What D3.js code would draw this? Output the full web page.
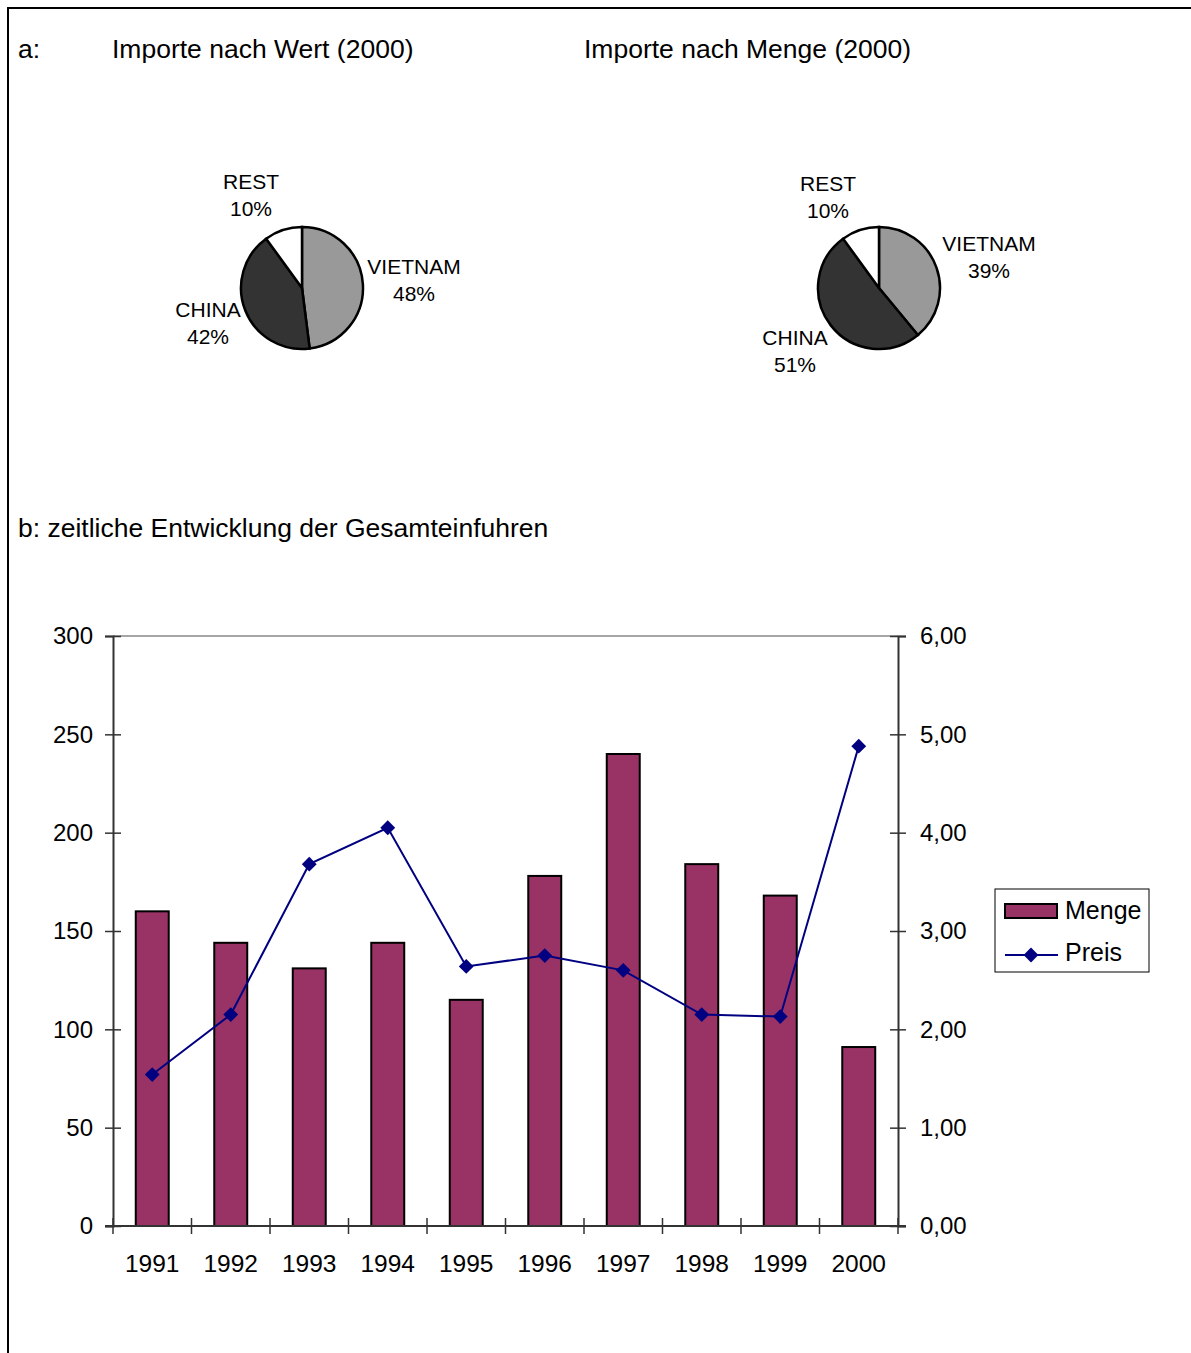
<!DOCTYPE html>
<html>
<head>
<meta charset="utf-8">
<script src="https://cdn.jsdelivr.net/npm/d3@7"></script>
<style>
  body { margin: 0; background: #fff; }
  svg { display: block; font-family: "Liberation Sans", Arial, sans-serif; }
</style>
</head>
<body>
<script>
// pie data (2000)
const pieNames = ['VIETNAM', 'CHINA', 'REST']
const wertShare = [48, 42, 10]
const mengeShare = [39, 51, 10]

// zeitliche Entwicklung
const years = ['1991', '1992', '1993', '1994', '1995', '1996', '1997', '1998', '1999', '2000']
const menge = [160, 144, 131, 144, 115, 178, 240, 184, 168, 91]
const preis = [1.54, 2.15, 3.68, 4.05, 2.64, 2.75, 2.60, 2.15, 2.13, 4.88]
const leftTicks = [0, 50, 100, 150, 200, 250, 300]
const rightTicks = [0, 1, 2, 3, 4, 5, 6]

const W = 1191, H = 1353
const svg = d3.select('body').append('svg').attr('width', W).attr('height', H)

// page frame
svg.append('path').attr('d', `M8,${H} L8,8 L${W},8`)
  .attr('fill', 'none').attr('stroke', '#000').attr('stroke-width', 2)

// headings
const head = (x, y, t, size) => svg.append('text').attr('x', x).attr('y', y)
  .attr('font-size', size).attr('dominant-baseline', 'central').text(t)
head(18, 49, 'a:', 26.5)
head(112, 49, 'Importe nach Wert (2000)', 26.5)
head(584, 49, 'Importe nach Menge (2000)', 26.5)
head(18, 528, 'b: zeitliche Entwicklung der Gesamteinfuhren', 26.5)

// pies
const pieColors = ['#999999', '#333333', '#ffffff']
const pie = d3.pie().sort(null).value(d => d)
const arc = d3.arc().innerRadius(0).outerRadius(61)

// label spots relative to pie centre (layout only), [x, y] of name line
const pieSpots = [
  { cx: 302, cy: 288, values: wertShare, labels: [[112, -22], [-94, 21], [-51, -107]] },
  { cx: 879, cy: 288, values: mengeShare, labels: [[110, -45], [-84, 49], [-51, -105]] }
]

pieSpots.forEach(p => {
  const g = svg.append('g').attr('transform', `translate(${p.cx},${p.cy})`)
  g.selectAll('path').data(pie(p.values)).enter().append('path')
    .attr('d', arc)
    .attr('fill', (d, i) => pieColors[i])
    .attr('stroke', '#000').attr('stroke-width', 2.5)

  p.values.forEach((v, i) => {
    const [lx, ly] = p.labels[i]
    const t = g.append('text').attr('font-size', 21).attr('text-anchor', 'middle')
    t.append('tspan').attr('x', lx).attr('y', ly).attr('dominant-baseline', 'central').text(pieNames[i])
    t.append('tspan').attr('x', lx).attr('y', ly + 27).attr('dominant-baseline', 'central').text(v + '%')
  })
})

// combo chart
const pLeft = 113, pRight = 898, pTop = 636, pBottom = 1226
const x = d3.scaleBand().domain(years).range([pLeft, pRight]).padding(0)
const yL = d3.scaleLinear().domain([0, 300]).range([pBottom, pTop])
const yR = d3.scaleLinear().domain([0, 6]).range([pBottom, pTop])

// plot top border
svg.append('line').attr('x1', pLeft).attr('x2', pRight).attr('y1', pTop).attr('y2', pTop)
  .attr('stroke', '#888').attr('stroke-width', 1.5)

// bars
const barW = x.bandwidth() * 0.42
svg.append('g').selectAll('rect').data(menge).enter().append('rect')
  .attr('x', (d, i) => x(years[i]) + (x.bandwidth() - barW) / 2)
  .attr('y', d => yL(d))
  .attr('width', barW)
  .attr('height', d => yL(0) - yL(d))
  .attr('fill', '#993366')
  .attr('stroke', '#000').attr('stroke-width', 2)

function styleAxis(g) {
  g.select('.domain').attr('stroke', '#333').attr('stroke-width', 2)
  g.selectAll('.tick line').attr('stroke', '#333').attr('stroke-width', 1.5)
  g.selectAll('.tick text').attr('font-size', 24).attr('fill', '#000')
    .attr('font-family', '"Liberation Sans", Arial, sans-serif')
}

// left axis
const axL = svg.append('g').attr('transform', `translate(${pLeft},0)`)
  .call(d3.axisLeft(yL).tickValues(leftTicks).tickSize(8).tickPadding(12))
axL.selectAll('.tick line').attr('x1', 8)
styleAxis(axL)

// right axis
const axR = svg.append('g').attr('transform', `translate(${pRight},0)`)
  .call(d3.axisRight(yR).tickValues(rightTicks).tickSize(8).tickPadding(14)
    .tickFormat(d => d3.format('.2f')(d).replace('.', ',')))
axR.selectAll('.tick line').attr('x1', -8)
styleAxis(axR)

// x axis
svg.append('line').attr('x1', pLeft - 8).attr('x2', pRight + 8).attr('y1', pBottom).attr('y2', pBottom)
  .attr('stroke', '#333').attr('stroke-width', 2)
const bounds = years.map(y => x(y)).concat([pRight])
svg.append('g').selectAll('line').data(bounds).enter().append('line')
  .attr('x1', d => d).attr('x2', d => d)
  .attr('y1', pBottom - 8).attr('y2', pBottom + 8)
  .attr('stroke', '#333').attr('stroke-width', 1.5)
svg.append('g').selectAll('text').data(years).enter().append('text')
  .attr('x', d => x(d) + x.bandwidth() / 2)
  .attr('y', 1263)
  .attr('text-anchor', 'middle').attr('dominant-baseline', 'central')
  .attr('font-size', 24.5).text(d => d)

// price line
const line = d3.line().x((d, i) => x(years[i]) + x.bandwidth() / 2).y(d => yR(d))
svg.append('path').datum(preis).attr('d', line)
  .attr('fill', 'none').attr('stroke', '#000080').attr('stroke-width', 2)
const diamond = d3.symbol().type(d3.symbolDiamond2).size(140)
svg.append('g').selectAll('path').data(preis).enter().append('path')
  .attr('d', diamond)
  .attr('transform', (d, i) => `translate(${x(years[i]) + x.bandwidth() / 2},${yR(d)})`)
  .attr('fill', '#000080')

// legend
const lg = svg.append('g')
lg.append('rect').attr('x', 995).attr('y', 889).attr('width', 154).attr('height', 83)
  .attr('fill', '#fff').attr('stroke', '#000').attr('stroke-width', 1)
lg.append('rect').attr('x', 1005).attr('y', 904).attr('width', 52).attr('height', 14)
  .attr('fill', '#993366').attr('stroke', '#000').attr('stroke-width', 2)
lg.append('line').attr('x1', 1005).attr('x2', 1058).attr('y1', 955).attr('y2', 955)
  .attr('stroke', '#000080').attr('stroke-width', 2)
lg.append('path').attr('d', diamond).attr('transform', 'translate(1031,955)').attr('fill', '#000080')
lg.append('text').attr('x', 1065).attr('y', 910).attr('dominant-baseline', 'central')
  .attr('font-size', 25).text('Menge')
lg.append('text').attr('x', 1065).attr('y', 952).attr('dominant-baseline', 'central')
  .attr('font-size', 25).text('Preis')
</script>
</body>
</html>
